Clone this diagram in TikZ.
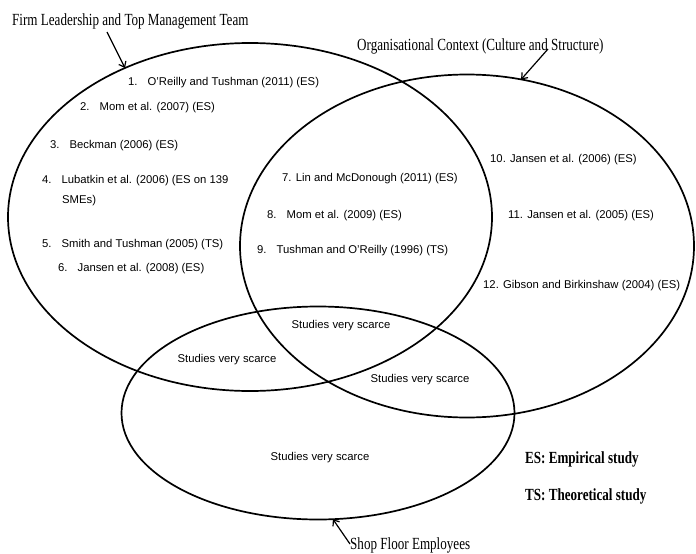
\documentclass[tikz,border=0pt]{standalone}
\usepackage{fontspec}
\setmainfont{Liberation Sans}
\newfontfamily\timescond[FakeStretch=0.77]{Liberation Serif}
\usepackage{tikz}
\usetikzlibrary{shapes.geometric,arrows.meta}

\begin{document}
\begin{tikzpicture}[x=1pt,y=-1pt,
set/.style={ellipse,draw,line width=1.7pt,inner sep=0pt,outer sep=0pt},
item/.style={anchor=base west,inner sep=0pt,font=\fontsize{11.3}{13}\selectfont},
scarce/.style={anchor=base,inner sep=0pt,font=\fontsize{11.3}{13}\selectfont},
head/.style={anchor=base west,inner sep=0pt,font=\timescond\fontsize{17}{20}\selectfont},
key/.style={head,font=\timescond\bfseries\fontsize{17}{20}\selectfont},
arr/.style={-{Straight Barb[length=5pt,width=8pt]},line width=1.2pt}]
\useasboundingbox (0,0) rectangle (696,554);

% the three sets
\node (e1) at (250,217) [set,minimum width=484pt,minimum height=348pt] {};
\node (e2) at (467,246) [set,minimum width=454pt,minimum height=343pt] {};
\node (e3) at (318,413) [set,minimum width=393pt,minimum height=213pt] {};

% set names
\node (t1) at (12,25) [head] {Firm Leadership and Top Management Team};
\node (t2) at (357,50) [head] {Organisational Context (Culture and Structure)};
\node (t3) at (350,549) [head] {Shop Floor Employees};
\coordinate (a1) at (107,32);
\coordinate (a2) at (548,49);
\coordinate (a3) at (350,544);

\draw[arr] (a1) -- (e1.130);
\draw[arr] (a2) -- (e2.72);
\draw[arr] (a3) -- (e3.278);

% studies
\node (l1) at (128,85) [item] {1.\hspace{10pt}O'Reilly and Tushman (2011) (ES)};
\node (l2) at (80,110) [item] {2.\hspace{10pt}Mom et al. (2007) (ES)};
\node (l3) at (50,148) [item] {3.\hspace{10pt}Beckman (2006) (ES)};
\node (l4) at (42,183) [item] {4.\hspace{10pt}Lubatkin et al. (2006) (ES on 139};
\node (l4b) at (62,203) [item] {SMEs)};
\node (l5) at (42,247) [item] {5.\hspace{10pt}Smith and Tushman (2005) (TS)};
\node (l6) at (58,271) [item] {6.\hspace{10pt}Jansen et al. (2008) (ES)};
\node (l7) at (282,181) [item] {7. Lin and McDonough (2011) (ES)};
\node (l8) at (267,218) [item] {8.\hspace{10pt}Mom et al. (2009) (ES)};
\node (l9) at (257,253) [item] {9.\hspace{10pt}Tushman and O'Reilly (1996) (TS)};
\node (l10) at (490,162) [item] {10. Jansen et al. (2006) (ES)};
\node (l11) at (508,218) [item] {11. Jansen et al. (2005) (ES)};
\node (l12) at (483,288) [item] {12. Gibson and Birkinshaw (2004) (ES)};

\node (s1) at (341,328) [scarce] {Studies very scarce};
\node (s2) at (227,362) [scarce] {Studies very scarce};
\node (s3) at (420,382) [scarce] {Studies very scarce};
\node (s4) at (320,460) [scarce] {Studies very scarce};

% key
\node (k1) at (525,463) [key] {ES: Empirical study};
\node (k2) at (525,500) [key] {TS: Theoretical study};
\end{tikzpicture}
\end{document}
